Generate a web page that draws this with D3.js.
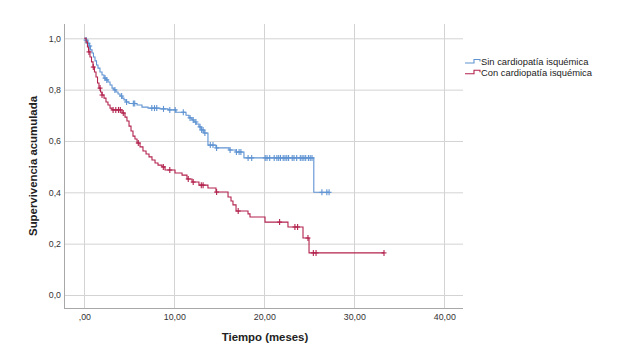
<!DOCTYPE html>
<html><head><meta charset="utf-8">
<script src="https://cdn.jsdelivr.net/npm/d3@7"></script>
<style>
html,body{margin:0;padding:0;background:#fff;}
svg{display:block;font-family:"Liberation Sans",Arial,sans-serif;}
</style></head>
<body>
<svg id="chart" width="619" height="361"></svg>
<script>
// ---- Data ----
const seriesNames = ["Sin cardiopatía isquémica", "Con cardiopatía isquémica"];

// Sin cardiopatía isquémica: step times and survival after each step
const sinTimes = [0, 0.19, 0.36, 0.52, 0.69, 0.86, 1.02, 1.19, 1.36, 1.52, 1.74, 1.97, 2.19, 2.41, 2.63, 2.86, 3.08, 3.30, 3.52, 3.75, 3.97, 4.19, 4.41, 4.63, 4.97, 5.86, 6.41, 7.08, 8.41, 9.3, 10.19, 11.3, 11.63, 11.97, 12.19, 12.41, 12.74, 12.97, 13.3, 13.74, 14.63, 16.08, 16.86, 17.74, 25.5];
const sinSurv  = [1, 0.993, 0.981, 0.970, 0.955, 0.943, 0.927, 0.912, 0.896, 0.884, 0.869, 0.857, 0.845, 0.838, 0.830, 0.818, 0.806, 0.799, 0.791, 0.783, 0.775, 0.767, 0.760, 0.752, 0.746, 0.740, 0.732, 0.728, 0.725, 0.721, 0.712, 0.700, 0.690, 0.682, 0.674, 0.666, 0.655, 0.643, 0.631, 0.584, 0.573, 0.565, 0.557, 0.534, 0.400];
const sinEnd = 27.2;
const sinCensored = [0.2, 0.4, 0.6, 2.3, 2.5, 3.4, 4.15, 4.7, 5.45, 5.6, 7.5, 7.8, 8.05, 8.8, 9.5, 10.1, 11.0, 11.75, 12.1, 12.4, 12.86, 13.04, 13.2, 13.4, 14.0, 14.3, 14.7, 16.2, 16.9, 17.2, 17.4, 18.2, 18.6, 20.1, 20.3, 20.6, 21.1, 21.4, 21.6, 21.8, 22.1, 22.3, 22.5, 22.7, 23.1, 23.3, 23.6, 24.0, 24.2, 24.4, 24.6, 24.9, 25.1, 25.3, 26.4, 26.95, 27.2];

// Con cardiopatía isquémica
const conTimes = [0, 0.2, 0.35, 0.47, 0.63, 0.8, 0.97, 1.13, 1.3, 1.47, 1.63, 1.8, 1.97, 2.19, 2.41, 2.63, 2.86, 3.08, 4.19, 4.52, 4.74, 4.97, 5.19, 5.41, 5.63, 5.86, 6.19, 6.52, 6.86, 7.19, 7.52, 7.86, 8.19, 8.63, 8.97, 10.08, 10.86, 11.41, 11.97, 12.74, 13.74, 14.63, 15.97, 16.30, 16.52, 16.86, 18.19, 18.41, 20.08, 22.63, 24.3, 24.97];
const conSurv  = [1, 0.985, 0.966, 0.947, 0.927, 0.908, 0.888, 0.869, 0.849, 0.826, 0.806, 0.791, 0.779, 0.767, 0.752, 0.740, 0.728, 0.721, 0.709, 0.693, 0.678, 0.658, 0.639, 0.619, 0.608, 0.592, 0.577, 0.561, 0.549, 0.538, 0.526, 0.514, 0.506, 0.499, 0.487, 0.475, 0.467, 0.452, 0.440, 0.428, 0.417, 0.401, 0.382, 0.366, 0.351, 0.327, 0.316, 0.304, 0.284, 0.265, 0.222, 0.164];
const conEnd = 33.3;
const conCensored = [0.52, 1.0, 1.75, 1.97, 3.2, 3.5, 3.8, 4.0, 4.33, 6.0, 8.78, 9.5, 11.55, 12.1, 13.0, 13.2, 14.7, 17.1, 21.7, 23.4, 23.7, 24.85, 25.45, 25.75, 33.3];

const xTicks = [0, 10, 20, 30, 40];
const xTickLabels = [",00", "10,00", "20,00", "30,00", "40,00"];
const yTicks = [0, 0.2, 0.4, 0.6, 0.8, 1.0];
const yTickLabels = ["0,0", "0,2", "0,4", "0,6", "0,8", "1,0"];
const xTitle = "Tiempo (meses)";
const yTitle = "Supervivencia acumulada";
const colors = ["#5f93d2", "#b3234e"];

// ---- Layout ----
const svg = d3.select("#chart");
const x = d3.scaleLinear().domain([0, 40]).range([84.3, 444.3]);
const y = d3.scaleLinear().domain([0, 1]).range([295, 38.3]);
const frameL = 64, frameR = 463, frameT = 24, frameB = 308;

// gridlines
const g = svg.append("g");
g.selectAll("line.hg").data(yTicks).join("line")
  .attr("x1", frameL).attr("x2", frameR)
  .attr("y1", d => y(d) + 0.5).attr("y2", d => y(d) + 0.5)
  .attr("stroke", "#d3d3d3").attr("stroke-width", 1);
g.selectAll("line.vg").data(xTicks).join("line")
  .attr("x1", d => Math.round(x(d)) + 0.5).attr("x2", d => Math.round(x(d)) + 0.5)
  .attr("y1", frameT).attr("y2", frameB)
  .attr("stroke", "#d3d3d3").attr("stroke-width", 1);

// axis lines
svg.append("line").attr("x1", frameL + 0.5).attr("x2", frameL + 0.5).attr("y1", frameT).attr("y2", frameB)
  .attr("stroke", "#a8a8a8");
svg.append("line").attr("x1", frameL).attr("x2", frameR).attr("y1", frameB + 0.5).attr("y2", frameB + 0.5)
  .attr("stroke", "#a8a8a8");

// axes labels via d3 axis generators
const xAxis = d3.axisBottom(x).tickValues(xTicks).tickFormat((d, i) => xTickLabels[i]).tickSize(0).tickPadding(6);
const xg = svg.append("g").attr("transform", `translate(0,${frameB})`).call(xAxis);
xg.select(".domain").remove();
xg.selectAll("text").attr("font-size", "8.8px").attr("fill", "#333").attr("font-family", "Liberation Sans, Arial, sans-serif");

const yAxis = d3.axisLeft(y).tickValues(yTicks).tickFormat((d, i) => yTickLabels[i]).tickSize(0).tickPadding(3);
const yg = svg.append("g").attr("transform", `translate(${frameL},0)`).call(yAxis);
yg.select(".domain").remove();
yg.selectAll("text").attr("font-size", "8.8px").attr("fill", "#333").attr("font-family", "Liberation Sans, Arial, sans-serif");

// titles
svg.append("text").attr("x", 265).attr("y", 341).attr("text-anchor", "middle")
  .attr("font-size", "11.4px").attr("font-weight", "bold").attr("fill", "#222").text(xTitle);
svg.append("text").attr("transform", "translate(37,166) rotate(-90)").attr("text-anchor", "middle")
  .attr("font-size", "11.4px").attr("font-weight", "bold").attr("fill", "#222").text(yTitle);

// ---- KM curves ----
function buildSeries(times, surv, end) {
  const pts = times.map((t, i) => [t, surv[i]]);
  pts.push([end, surv[surv.length - 1]]);
  return pts;
}
function survAt(times, surv, t) {
  let s = surv[0];
  for (let i = 0; i < times.length; i++) { if (times[i] <= t) s = surv[i]; }
  return s;
}
const line = d3.line().x(d => x(d[0])).y(d => y(d[1])).curve(d3.curveStepAfter);

const series = [
  {times: sinTimes, surv: sinSurv, end: sinEnd, cens: sinCensored, color: colors[0]},
  {times: conTimes, surv: conSurv, end: conEnd, cens: conCensored, color: colors[1]}
];
series.forEach(s => {
  svg.append("path").datum(buildSeries(s.times, s.surv, s.end))
    .attr("fill", "none").attr("stroke", s.color).attr("stroke-width", 1.1).attr("d", line);
  const cg = svg.append("g").attr("stroke", s.color).attr("stroke-width", 1.1);
  s.cens.forEach(t => {
    const cx = x(t), cy = y(survAt(s.times, s.surv, t));
    cg.append("line").attr("x1", cx).attr("x2", cx).attr("y1", cy - 3).attr("y2", cy + 3);
    cg.append("line").attr("x1", cx - 2.5).attr("x2", cx + 2.5).attr("y1", cy).attr("y2", cy);
  });
});

// ---- Legend ----
const leg = svg.append("g");
seriesNames.forEach((name, i) => {
  const ly = 63 + i * 10.7;
  leg.append("path").attr("d", `M465,${ly} H474 V${ly - 3.5} H480 V${ly - 1.5}`)
    .attr("fill", "none").attr("stroke", colors[i]).attr("stroke-width", 1.1);
  leg.append("text").attr("x", 481).attr("y", ly + 1.8).attr("font-size", "9.4px").attr("fill", "#222").text(name);
});
</script>
</body></html>
